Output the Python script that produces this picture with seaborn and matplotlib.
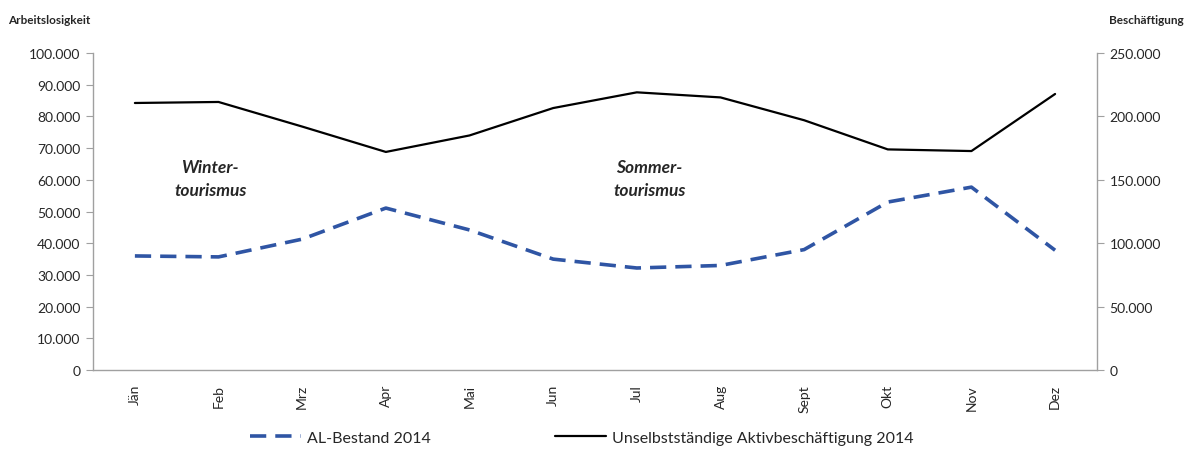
import numpy as np
import pandas as pd
import matplotlib
matplotlib.use("Agg")
import matplotlib.pyplot as plt
import seaborn as sns
from matplotlib.ticker import FuncFormatter, FixedLocator
from matplotlib.lines import Line2D

# data
months = ["Jän", "Feb", "Mrz", "Apr", "Mai", "Jun", "Jul", "Aug", "Sept", "Okt", "Nov", "Dez"]
al_bestand = [36000, 35700, 41300, 51100, 44200, 35000, 32200, 33000, 38000, 53000, 57700, 37800]
beschaeftigung = [210600, 211400, 192000, 172000, 185000, 206600, 219000, 215000, 197000, 174000, 172700, 217700]

sns.set_style("white")
plt.rcParams["font.family"] = ["Lato", "DejaVu Sans"]

df = pd.DataFrame({"Monat": months, "idx": np.arange(len(months)),
                   "AL": al_bestand, "Besch": beschaeftigung})

fig = plt.figure(figsize=(11.87, 4.52), dpi=100)
ax = fig.add_axes([0.0784, 0.179, 0.8457, 0.7015])
ax2 = ax.twinx()

blue = "#2f55a4"
sns.lineplot(data=df, x="idx", y="AL", ax=ax, color=blue, linewidth=2.6)
ax.lines[0].set_dashes([4.5, 2.5])
sns.lineplot(data=df, x="idx", y="Besch", ax=ax2, color="black", linewidth=1.6)

thousands = FuncFormatter(lambda v, p: "0" if v == 0 else f"{int(v):,}".replace(",", "."))

ax.set_xlim(-0.5, len(months) - 0.5)
ax.set_ylim(0, 100000)
ax2.set_ylim(0, 250000)
ax.set_yticks(np.arange(0, 100001, 10000))
ax2.set_yticks(np.arange(0, 250001, 50000))
ax.yaxis.set_major_formatter(thousands)
ax2.yaxis.set_major_formatter(thousands)

ax.set_xticks(np.arange(len(months)))
ax.set_xticklabels(months, rotation=90, fontsize=10)
ax.xaxis.set_minor_locator(FixedLocator(np.arange(-0.5, len(months), 1)))
ax.tick_params(axis="x", which="major", length=0, pad=10)
ax.tick_params(axis="x", which="minor", length=5, color="#a0a0a0", direction="out")
ax.tick_params(axis="y", length=5, color="#a0a0a0", direction="out", labelsize=10, pad=4)
ax2.tick_params(axis="y", length=5, color="#a0a0a0", direction="out", labelsize=10, pad=4)

ax.set_xlabel("")
ax.set_ylabel("")
ax2.set_ylabel("")

for a in (ax, ax2):
    for s in a.spines.values():
        s.set_visible(False)
    a.grid(False)
ax.spines["left"].set_visible(True)
ax.spines["bottom"].set_visible(True)
ax2.spines["right"].set_visible(True)
for s in (ax.spines["left"], ax.spines["bottom"], ax2.spines["right"]):
    s.set_color("#a0a0a0")
    s.set_linewidth(1.0)

fig.text(0.007, 0.955, "Arbeitslosigkeit", fontsize=8.5, fontweight="bold", ha="left", va="center")
fig.text(0.997, 0.955, "Beschäftigung", fontsize=8.5, fontweight="bold", ha="right", va="center")

ax.text(0.9, 60500, "Winter-\ntourismus", fontsize=12.5, fontweight="bold", style="italic",
        ha="center", va="center", linespacing=1.55)
ax.text(6.15, 60500, "Sommer-\ntourismus", fontsize=12.5, fontweight="bold", style="italic",
        ha="center", va="center", linespacing=1.55)

handles = [Line2D([], [], color=blue, linewidth=2.6, dashes=[4.5, 2.5]),
           Line2D([], [], color="black", linewidth=1.6)]
fig.legend(handles, ["AL-Bestand 2014", "Unselbstständige Aktivbeschäftigung 2014"],
           loc="center", bbox_to_anchor=(0.49, 0.03), ncol=2, frameon=False,
           fontsize=11.5, handlelength=3.2, columnspacing=7.8, handletextpad=0.35)

fig.savefig("out.png", dpi=100)
